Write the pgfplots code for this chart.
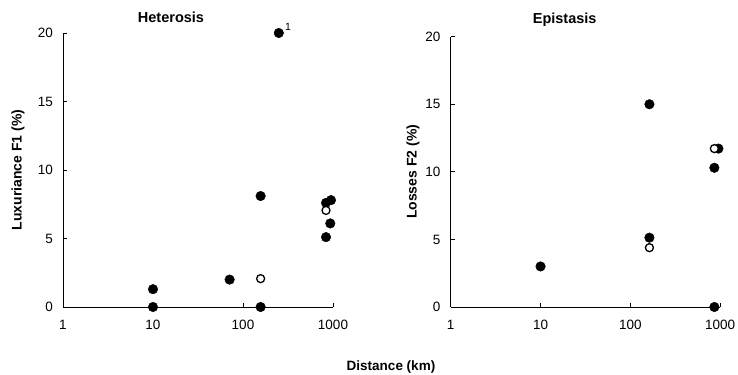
\documentclass[border=0pt]{standalone}
\usepackage{fontspec}
\setmainfont{Liberation Sans}
\usepackage{pgfplots}
\pgfplotsset{compat=1.18}
\pgfplotsset{
 myax/.style={
  scale only axis, xmin=1, xmax=1000, ymin=0, ymax=20,
  axis x line*=bottom, axis y line*=left,
  axis line style={line width=0.8bp, -},
  xtick={1,10,100,1000}, xticklabels={1,10,100,1000}, xminorticks=false,
  ytick={0,5,10,15,20}, yticklabels={0,5,10,15,20},
  tick align=inside, major tick length=4bp,
  tick style={black, line width=0.8bp},
  ticklabel style={font=\fontsize{13.5bp}{16bp}\selectfont},
  yticklabel style={anchor=east, inner sep=0pt, xshift=-10bp},
  xticklabel style={anchor=north, inner sep=0pt, yshift=-13bp},
  clip=false,
  ylabel style={font=\bfseries\fontsize{14bp}{16bp}\selectfont, anchor=center},
 },
 myfilled/.style={only marks, mark=*, mark size=4.8bp, mark options={fill=black, draw=black, line width=0.4bp}},
 myopen/.style={only marks, mark=*, mark size=4bp, mark options={fill=white, draw=black, line width=1.3bp}},
}
\begin{document}
\begin{tikzpicture}
\useasboundingbox (0bp,0bp) rectangle (738bp,375bp);
\begin{semilogxaxis}[myax, at={(63bp,68bp)}, anchor=south west, width=270bp, height=274bp,
  ylabel={Luxuriance F1 (\%)},
  ylabel style={at={(axis description cs:-0.167,0.5)}}]
\addplot[myfilled] coordinates {(10,1.3) (10,0) (71,2.0) (157,8.1) (157,0) (250,20) (836,7.6) (950,7.8) (933,6.1) (836,5.1)};
\addplot[myopen] coordinates {(157,2.07) (836,7.05)};
\node[anchor=south west, inner sep=0pt, xshift=6bp, yshift=2bp, font=\fontsize{10.5bp}{12bp}\selectfont] at (axis cs:250,20) {1};
\node[anchor=base, inner sep=0pt, yshift=10.3bp, font=\bfseries\fontsize{14.5bp}{17bp}\selectfont] at (axis description cs:0.4,1) {Heterosis};
\end{semilogxaxis}
\begin{semilogxaxis}[myax, at={(450.7bp,68bp)}, anchor=south west, width=269.5bp, height=270.3bp,
  ylabel={Losses F2 (\%)},
  ylabel style={at={(axis description cs:-0.14,0.5)}}]
\addplot[myfilled] coordinates {(10,3.0) (163,15.0) (163,5.13) (861,10.3) (955,11.72) (861,0)};
\addplot[myopen] coordinates {(163,4.39) (861,11.72)};
\node[anchor=base, inner sep=0pt, yshift=12.7bp, font=\bfseries\fontsize{14.5bp}{17bp}\selectfont] at (axis description cs:0.423,1) {Epistasis};
\end{semilogxaxis}
\node[anchor=base, font=\bfseries\fontsize{13.5bp}{16bp}\selectfont] at (391bp,5bp) {Distance (km)};
\end{tikzpicture}
\end{document}
